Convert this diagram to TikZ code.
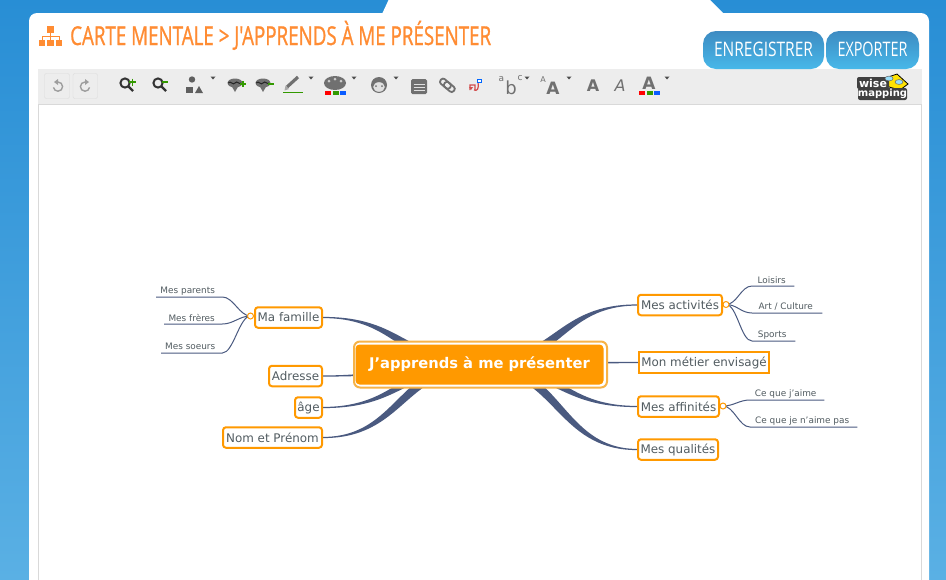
\documentclass[tikz,border=0pt]{standalone}
\usepackage{fontspec}
\usepackage{graphicx}
\setmainfont{DejaVu Sans}
\newfontfamily\titlefont{Open Sans}
\newfontfamily\titleheavy{Open Sans}[FakeBold=1.2]
\usetikzlibrary{calc,backgrounds}
\definecolor{linkc}{HTML}{4A5A80}
\definecolor{orangeb}{HTML}{FF9900}
\definecolor{orangel}{HTML}{F7B347}
\definecolor{titlec}{HTML}{FF8C33}
\definecolor{textc}{HTML}{525C61}
\definecolor{iconc}{HTML}{707070}
\definecolor{greenb}{HTML}{339900}
\definecolor{redb}{HTML}{FF0000}
\definecolor{blueb}{HTML}{0A5CFF}
\definecolor{btntop}{HTML}{3D8BC2}
\definecolor{btnbot}{HTML}{48B8E9}
\definecolor{pagetop}{HTML}{288ED5}
\definecolor{pagebot}{HTML}{5AB0E4}
\tikzset{
  topicbox/.style={draw=orangeb,line width=2pt,fill=white,rounded corners=3pt,inner sep=0pt,
    minimum height=20.5pt,text=textc,font=\fontsize{11.9}{12}\selectfont,yshift=-0.5pt},
  leafbox/.style={inner sep=0pt,minimum height=12pt,anchor=south west,text=textc,
    font=\fontsize{8.9}{9}\selectfont,execute at end node=\hspace{3pt}},
  leaflink/.style={draw=linkc,line width=1pt},
  foldc/.style={circle,draw=orangeb,fill=white,line width=1pt,inner sep=0pt,minimum size=6pt},
  btn/.style={rounded corners=13pt,top color=btntop,bottom color=btnbot,draw=none},
  btntext/.style={text=white,inner sep=0pt},
  icon/.style={inner sep=0pt,text=iconc},
}
% child anchor, horizontal skew of the two edges
\newcommand\taperlink[2]{%
  \fill[linkc] let \p1=(#1), \p2=(root.center), \n1={0.5*\x1+0.5*\x2} in
   (\x1,{\y1+0.6pt}) .. controls ({\n1+#2pt},{\y1+0.6pt}) and ({\n1+#2pt},{\y2+5pt}) .. (\x2,{\y2+5pt})
   -- (\x2,{\y2-5pt}) .. controls ({\n1-#2pt},{\y2-5pt}) and ({\n1-#2pt},{\y1-0.6pt}) .. (\x1,{\y1-0.6pt}) -- cycle;}
\newcommand\dropmark[1]{\fill[black!70] (#1-2.5,76.5) -- (#1+2.5,76.5) -- (#1,79.5) -- cycle;}
\newcommand\magn[2]{%
  \draw[black!80,line width=2pt] (#1,#2) circle (4.6pt);
  \draw[black!80,line width=2.2pt] (#1+3.5,#2+3.5) -- (#1+8,#2+8);}
\newcommand\brainicon[2]{%
  \fill[iconc] (#1,#2) ellipse (7.5pt and 4.5pt);
  \fill[iconc] (#1-4,#2+2) -- (#1+4,#2+2) -- (#1,#2+9) -- cycle;
  \draw[black!85,line width=1pt] (#1-7,#2) .. controls (#1-4,#2-3) and (#1-2,#2+3) .. (#1,#2) .. controls (#1+2,#2-3) and (#1+4,#2+2) .. (#1+6,#2);}
\newcommand\colorbar[2]{% x, y
  \fill[redb] (#1,#2) rectangle +(6,4);
  \fill[greenb] (#1+7.5,#2) rectangle +(6,4);
  \fill[blueb] (#1+15,#2) rectangle +(6,4);}
\begin{document}
\begin{tikzpicture}[x=1pt,y=-1pt]
\useasboundingbox (0,0) rectangle (946,579);
\clip (0,0) rectangle (946,579);

% --- nodes of the map
\node[rounded corners=6pt,draw=orangel,line width=2pt,fill=white,minimum width=253pt,minimum height=46pt,inner sep=0pt] (ring) at (480.5,364.5) {};
\node[rounded corners=4pt,fill=orangeb,minimum width=248pt,minimum height=40pt,inner sep=0pt,text=white,font=\fontsize{14.7}{15}\bfseries\selectfont] (root) at (479.5,364.5) {J'apprends à me présenter};

\node[topicbox,minimum width=67pt] (famille) at (288.5,317) {Ma famille};
\node[topicbox,minimum width=53pt] (adresse) at (295.5,375.5) {Adresse};
\node[topicbox,minimum width=27pt] (age) at (308.5,407) {âge};
\node[topicbox,minimum width=99pt] (nom) at (272.5,437) {Nom et Prénom};
\node[topicbox,minimum width=84pt] (activites) at (680,304.5) {Mes activités};
\node[topicbox,rounded corners=0pt,minimum width=130pt] (metier) at (704,362) {Mon métier envisagé};
\node[topicbox,minimum width=81pt] (affinites) at (678.5,406) {Mes affinités};
\node[topicbox,minimum width=80pt] (qualites) at (678,449) {Mes qualités};

\node[foldc] (ffold) at (250.5,316) {};
\node[foldc] (afold) at (726,304.5) {};
\node[foldc] (ifold) at (723,406) {};

\node[leafbox,minimum width=66pt] (parents) at (156,297) {Mes parents};
\node[leafbox,minimum width=58pt] (freres) at (164,324) {Mes frères};
\node[leafbox,minimum width=61pt] (soeurs) at (161,353) {Mes soeurs};
\node[leafbox,minimum width=42pt] (loisirs) at (752,286) {Loisirs};
\node[leafbox,minimum width=70pt] (art) at (752,313) {Art / Culture};
\node[leafbox,minimum width=43pt] (sports) at (752,341) {Sports};
\node[leafbox,minimum width=74pt] (jaime) at (750,400) {Ce que j'aime};
\node[leafbox,minimum width=107pt] (jaimepas) at (750,427) {Ce que je n'aime pas};

% --- background, panel, connectors
\begin{scope}[on background layer]
  \shade[top color=pagetop,bottom color=pagebot] (0,0) rectangle (946,579);
  \fill[white] (389,-1) -- (382,14) -- (724,14) .. controls (718,8) and (714,4) .. (709,-1) -- cycle;
  \fill[white,rounded corners=8pt] (29,13) rectangle (929,620);
  \fill[white] (39,104) rectangle (921,600);
  \draw[black!15,line width=1pt] (38.5,104) rectangle (921.5,600);
  \fill[black!7] (38,69) rectangle (922,104);
  \draw[black!15,line width=1pt] (38,104) -- (922,104);

  \taperlink{famille.east}{3}
  \taperlink{adresse.east}{0}
  \taperlink{age.east}{-2}
  \taperlink{nom.east}{-3}
  \taperlink{activites.west}{-3}
  \taperlink{metier.west}{0}
  \taperlink{affinites.west}{2}
  \taperlink{qualites.west}{3}

  \draw[leaflink] (parents.south west) -- (parents.south east) .. controls +(11,0) and +(-11,0) .. (ffold.center);
  \draw[leaflink] (freres.south west) -- (freres.south east) .. controls +(11,0) and +(-11,0) .. (ffold.center);
  \draw[leaflink] (soeurs.south west) -- (soeurs.south east) .. controls +(11,0) and +(-11,0) .. (ffold.center);
  \draw[leaflink] (loisirs.south east) -- (loisirs.south west) .. controls +(-11,0) and +(11,0) .. (afold.center);
  \draw[leaflink] (art.south east) -- (art.south west) .. controls +(-11,0) and +(11,0) .. (afold.center);
  \draw[leaflink] (sports.south east) -- (sports.south west) .. controls +(-11,0) and +(11,0) .. (afold.center);
  \draw[leaflink] (jaime.south east) -- (jaime.south west) .. controls +(-11,0) and +(11,0) .. (ifold.center);
  \draw[leaflink] (jaimepas.south east) -- (jaimepas.south west) .. controls +(-11,0) and +(11,0) .. (ifold.center);
\end{scope}

% --- title
\fill[titlec] (47,26) rectangle (54,33);
\fill[titlec] (38.5,40) rectangle (45,46);
\fill[titlec] (47,40) rectangle (54,46);
\fill[titlec] (55.5,40) rectangle (62,46);
\draw[titlec,line width=1pt] (50.5,33) -- (50.5,40) (42,40) -- (42,36.5) -- (59,36.5) -- (59,40);
\node[anchor=base west,inner sep=0pt,text=titlec] (title) at (70,45) {\resizebox{421pt}{\height}{\titleheavy\fontsize{26}{26}\selectfont CARTE MENTALE > J'APPRENDS À ME PRÉSENTER}};

% --- buttons
\path[btn] (703,31) rectangle (824,69);
\path[btn] (826,31) rectangle (919,69);
\node[btntext,anchor=base] (save) at (763.5,56) {\resizebox{99pt}{\height}{\titlefont\fontsize{20}{20}\selectfont ENREGISTRER}};
\node[btntext,anchor=base] (export) at (872.5,56) {\resizebox{70pt}{\height}{\titlefont\fontsize{20}{20}\selectfont EXPORTER}};

% --- toolbar
\draw[black!14,fill=black!7,rounded corners=2pt] (44.5,73.5) rectangle (69.5,98.5);
\draw[black!14,fill=black!7,rounded corners=2pt] (73,73.5) rectangle (97.5,98.5);
\draw[black!38,line width=1.4pt] (58,82) arc[start angle=90,end angle=-170,radius=4.6pt];
\fill[black!38] (54,82) -- (58,79) -- (58,85) -- cycle;
\draw[black!38,line width=1.4pt] (85,82) arc[start angle=90,end angle=350,radius=4.6pt];
\fill[black!38] (89,82) -- (85,79) -- (85,85) -- cycle;

\magn{125}{83}
\draw[greenb,line width=1.6pt] (129,82) -- (136,82) (132.5,78.5) -- (132.5,85.5);
\magn{158}{83}
\draw[greenb,line width=1.6pt] (162,82) -- (168,82);

\fill[iconc!85!black] (192,79.5) circle (3.2pt);
\fill[iconc!85!black] (186,87) rectangle (192.5,93);
\fill[iconc!85!black] (195,93) -- (203,93) -- (199,86) -- cycle;
\dropmark{213}

\brainicon{235}{83}
\draw[greenb,line width=1.6pt] (240,84) -- (246,84) (243,81) -- (243,87);
\brainicon{263}{83}
\draw[greenb,line width=1.6pt] (268,84) -- (274,84);

\draw[iconc,line width=3.2pt] (287,87) -- (298,77);
\fill[iconc!60] (284.5,90.5) -- (285.5,85.5) -- (289,89) -- cycle;
\draw[greenb,line width=1.5pt] (283,92.5) -- (303,92.5);
\dropmark{311}

\fill[iconc] (335,83) ellipse (11pt and 7pt);
\fill[black!20] (329,81) circle (1.5pt) (335,79) circle (1.5pt) (341,81) circle (1.5pt);
\colorbar{325}{91}
\dropmark{354}

\fill[iconc] (379,85) circle (8pt);
\fill[black!12] (379,87) ellipse (5.8pt and 4.8pt);
\fill[iconc] (376,86) circle (1pt) (382,86) circle (1pt);
\dropmark{396}

\fill[iconc,rounded corners=1.5pt] (411,79) rectangle (427,94);
\draw[black!12,line width=1pt] (413.5,84) -- (424.5,84) (413.5,87) -- (424.5,87) (413.5,90) -- (424.5,90);

\draw[iconc,line width=1.8pt,rounded corners=2.5pt,rotate around={-40:(447,85)}] (439,82) rectangle (451,88);
\draw[iconc,line width=1.8pt,rounded corners=2.5pt,rotate around={-40:(447,85)}] (444,82) rectangle (456,88);

\draw[red!75!black!70,line width=1.2pt] (470,90) -- (470,85) -- (475,85) -- (475,90) (478,82) .. controls (479,90) and (477,91) .. (474,90);
\fill[red!75!black!70] (469,87) -- (473,87) -- (471,90) -- cycle;
\draw[blue!60!cyan,fill=white,line width=.8pt] (477,79.5) rectangle (481.5,82.5);

\node[icon,font=\fontsize{9}{9}\selectfont] (abca) at (501.5,79.5) {a};
\node[icon,font=\fontsize{18}{18}\selectfont] (abcb) at (511,87.5) {b};
\node[icon,font=\fontsize{9}{9}\selectfont] (abcc) at (520,78.5) {c};
\dropmark{527}

\node[icon,font=\fontsize{8}{8}\selectfont] (fsa) at (543,80) {A};
\node[icon,font=\fontsize{17}{17}\bfseries\selectfont] (fsb) at (553,88) {A};
\dropmark{569}

\node[icon,font=\fontsize{16}{16}\bfseries\selectfont] (bolda) at (593,86) {A};
\node[icon,font=\fontsize{16}{16}\itshape\selectfont] (itala) at (620,86) {A};
\node[icon,font=\fontsize{17}{17}\bfseries\selectfont] (cola) at (649,83) {A};
\colorbar{639}{90.5}
\dropmark{667}

% --- logo
\fill[yellow!85!orange,draw=black,line width=.8pt] (885,78) -- (897,74) -- (908,84) -- (900,90) -- (889,87) -- cycle;
\fill[black!75,rounded corners=2pt] (857,77) rectangle (889,89);
\fill[black!75,rounded corners=2pt] (858,88) rectangle (907,100);
\node[inner sep=0pt,text=white,font=\fontsize{11}{11}\bfseries\selectfont] (wise) at (873,83) {wise};
\node[inner sep=0pt,text=white,font=\fontsize{10}{10}\bfseries\selectfont] (mapping) at (882.5,94) {mapping};
\fill[cyan!40,draw=black!60,line width=.5pt] (889,78.5) ellipse (4pt and 2.4pt) (899,82) ellipse (4pt and 2.4pt);
\end{tikzpicture}
\end{document}
